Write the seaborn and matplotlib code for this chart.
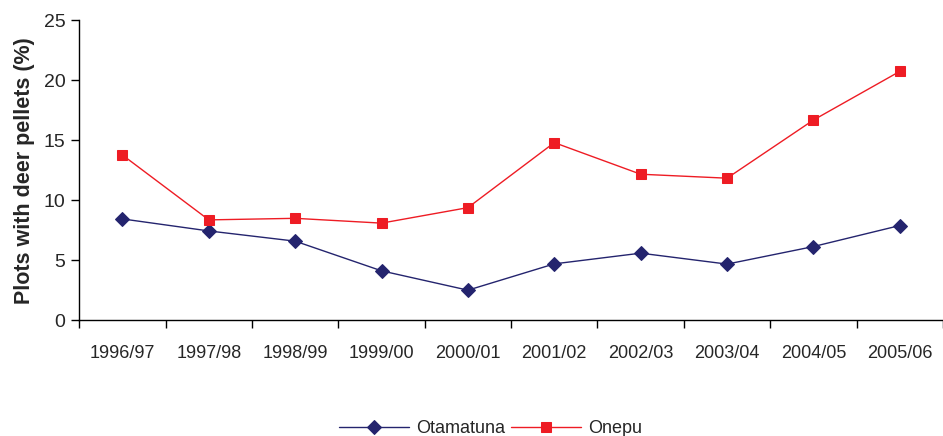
import numpy as np
import pandas as pd
import matplotlib
matplotlib.use('Agg')
import matplotlib.pyplot as plt
import seaborn as sns

# Data
seasons = ['1996/97', '1997/98', '1998/99', '1999/00', '2000/01',
           '2001/02', '2002/03', '2003/04', '2004/05', '2005/06']
otamatuna = [8.45, 7.45, 6.6, 4.13, 2.52, 4.71, 5.6, 4.69, 6.15, 7.9]
onepu = [13.77, 8.37, 8.5, 8.1, 9.39, 14.8, 12.17, 11.84, 16.68, 20.73]

df = pd.DataFrame({
    'season': seasons * 2,
    'pct': otamatuna + onepu,
    'site': ['Otamatuna'] * len(seasons) + ['Onepu'] * len(seasons),
})

sns.set_style('white')
plt.rcParams['font.family'] = ['Liberation Sans', 'DejaVu Sans']

fig = plt.figure(figsize=(9.43, 4.36), dpi=100)
ax = fig.add_axes([0.084, 0.265, 0.916, 0.689])

palette = {'Otamatuna': '#24246e', 'Onepu': '#ee1c24'}
markers = {'Otamatuna': 'D', 'Onepu': 's'}
sizes = {'Otamatuna': 8, 'Onepu': 9}

for site in ['Otamatuna', 'Onepu']:
    sub = df[df['site'] == site]
    sns.lineplot(data=sub, x='season', y='pct', ax=ax, color=palette[site],
                 marker=markers[site], markersize=sizes[site],
                 markeredgecolor=palette[site], linewidth=1.0,
                 label=site, sort=False)

ax.set_xlim(-0.5, len(seasons) - 0.5)
ax.set_ylim(0, 25)
ax.set_yticks([0, 5, 10, 15, 20, 25])
ax.set_xticks(range(len(seasons)))
ax.set_xticklabels(seasons)
ax.set_xticks(np.arange(-0.5, len(seasons), 1), minor=True)
ax.tick_params(axis='x', which='major', length=0, pad=18, labelsize=13)
ax.tick_params(axis='x', which='minor', length=6, width=1, color='black', direction='out')
ax.tick_params(axis='y', length=6, width=1, color='black', direction='out', labelsize=14, pad=4)
ax.yaxis.set_ticks_position('left')
ax.xaxis.set_ticks_position('bottom')

for s in ['top', 'right']:
    ax.spines[s].set_visible(False)
for s in ['left', 'bottom']:
    ax.spines[s].set_color('black')
    ax.spines[s].set_linewidth(1)

ax.set_xlabel('')
ax.set_ylabel('Plots with deer pellets (%)', fontsize=15.5, fontweight='bold', labelpad=6)

ax.get_legend().remove()
handles, labels = ax.get_legend_handles_labels()
for h in handles:
    h.set_markersize(7)
fig.legend(handles, labels, loc='lower center', ncol=2, frameon=False,
           bbox_to_anchor=(0.52, -0.04), fontsize=13, handlelength=3.9,
           columnspacing=0.3, handletextpad=0.4)

fig.savefig('out.png', dpi=100, facecolor='white')
